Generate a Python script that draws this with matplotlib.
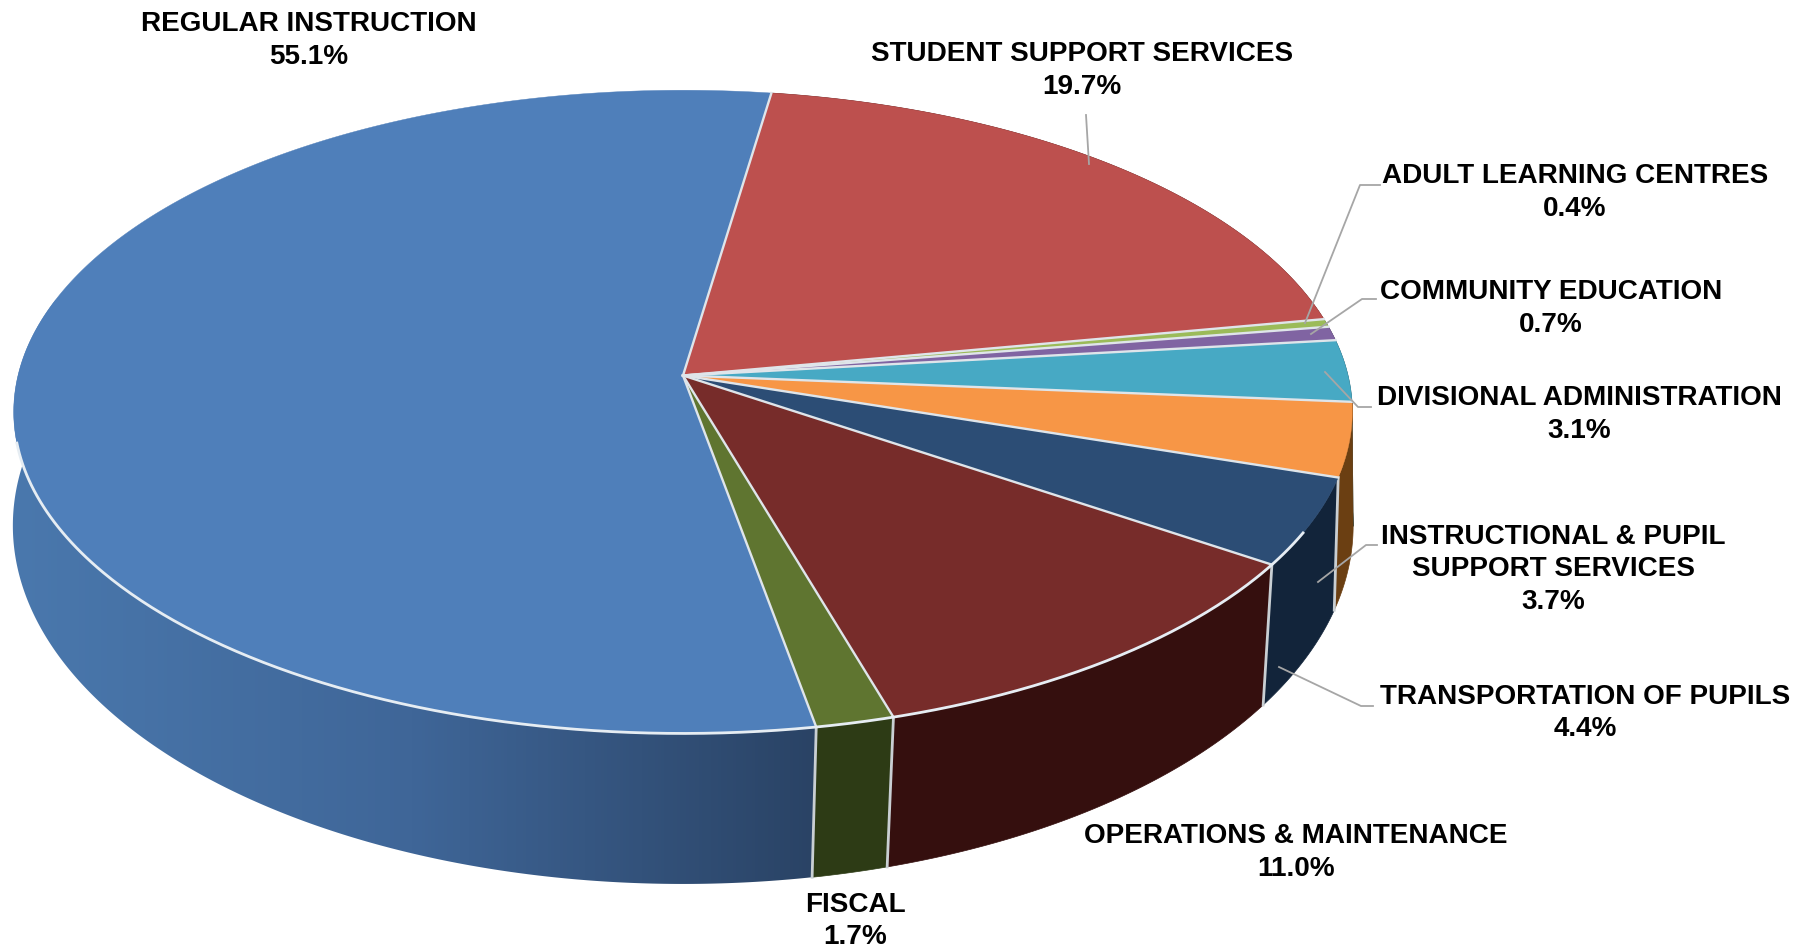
import numpy as np
import matplotlib
matplotlib.use("Agg")
import matplotlib.pyplot as plt
from matplotlib.patches import Polygon
from matplotlib.colors import LinearSegmentedColormap

# clockwise from the top of the pie, starting after the blue slice
names = ["STUDENT SUPPORT SERVICES", "ADULT LEARNING CENTRES", "COMMUNITY EDUCATION",
         "DIVISIONAL ADMINISTRATION", "INSTRUCTIONAL & PUPIL\nSUPPORT SERVICES",
         "TRANSPORTATION OF PUPILS", "OPERATIONS & MAINTENANCE", "FISCAL", "REGULAR INSTRUCTION"]
values = [19.7, 0.4, 0.7, 3.1, 3.7, 4.4, 11.0, 1.7, 55.1]
top_colors = ["#bd504e", "#9bbb59", "#8064a2", "#47a9c4", "#f79646", "#2c4d75", "#772c2a", "#5f7530", "#4f7fba"]
side_colors = ["#5e2725", "#4d5d2c", "#403151", "#255562", "#6b3f12", "#12243a", "#350f0e", "#2d3b15", "#4a78ad"]
label_x = [1082, 1575, 1551, 1579, 1553, 1585, 1296, 855, 309]
label_y = [54, 176, 292, 398, 537, 697, 836, 905, 24]
leaders = [
    [(1086, 115), (1089, 164)],
    [(1380, 185), (1360, 185), (1305, 323)],
    [(1376, 299), (1362, 299), (1311, 334)],
    [(1371, 407), (1358, 407), (1325, 372)],
    [(1377, 545), (1366, 545), (1318, 582)],
    [(1373, 706), (1361, 706), (1279, 667)],
]
start_angle = 8.5
edge = "#dfe5ea"


def top_xy(t):
    # unit circle seen in perspective, so the centre sits above the ellipse middle
    x, y = np.sin(t), np.cos(t)
    w = 1 + 0.113 * y
    return 683 + 665 * x / w, 375.5 - 317.5 * y / w


def bottom_xy(t):
    x, y = np.sin(t), np.cos(t)
    w = 1 + 0.08 * y
    return 683 + 668 * x / w, 497 - 356 * y / w


fig = plt.figure(figsize=(18.11, 9.51), dpi=100)
ax = fig.add_axes([0, 0, 1, 1])
ax.axis("off")

shares = np.array(values) / sum(values)
angles = np.radians(start_angle + np.concatenate([[0], np.cumsum(shares)]) * 360)

# side wall: flat dark colour, the big blue one gets a left to right gradient
for i, color in enumerate(side_colors):
    ts = np.linspace(angles[i], angles[i + 1], max(4, int(values[i] * 8)))
    tx, ty = top_xy(ts)
    bx, by = bottom_xy(ts)
    xy = np.c_[np.r_[tx, bx[::-1]], np.r_[ty, by[::-1]]]
    if i == 8:
        patch = Polygon(xy, closed=True, facecolor="none", edgecolor="none", transform=ax.transData)
        ax.add_patch(patch)
        cmap = LinearSegmentedColormap.from_list("wall", [color, "#3f6698", "#2a4365"])
        im = ax.imshow(np.linspace(0, 1, 256)[None, :], cmap=cmap, extent=(10, 815, 900, 300),
                       aspect="auto", zorder=2)
        im.set_clip_path(patch)
    else:
        ax.fill(xy[:, 0], xy[:, 1], color=color, lw=0.5, zorder=2)

# seams on the visible part of the wall
for t in angles[5:9]:
    tx, ty = top_xy(t)
    bx, by = bottom_xy(t)
    ax.plot([tx, bx], [ty, by], color="#c9cfd3", lw=2, zorder=3)

# top face
for i, color in enumerate(top_colors):
    ts = np.linspace(angles[i], angles[i + 1], max(4, int(values[i] * 8)))
    xs, ys = top_xy(ts)
    ax.fill(np.r_[683, xs], np.r_[375.5, ys], color=color, lw=0.3, zorder=4)

# slice borders and the light rim along the front
for t in angles[:-1]:
    x, y = top_xy(t)
    ax.plot([683, x], [375.5, y], color=edge, lw=1.7, zorder=5)
rim_x, rim_y = top_xy(np.radians(np.linspace(118, 258, 300)))
ax.plot(rim_x, rim_y, color="#e6edf3", lw=2, zorder=5)

for pts in leaders:
    ax.plot(*zip(*pts), color="#a6a6a6", lw=1.3, zorder=6)

for name, val, x, y in zip(names, values, label_x, label_y):
    lines = name.split("\n") + ["%.1f%%" % val]
    for n, line in enumerate(lines):
        ax.text(x, y + n * 32.5, line, ha="center", va="center", family="Liberation Sans",
                fontweight="bold", fontsize=20.1, color="black", zorder=7)

ax.set_xlim(0, 1811)
ax.set_ylim(951, 0)
fig.savefig("out.png", dpi=100, facecolor="white")
